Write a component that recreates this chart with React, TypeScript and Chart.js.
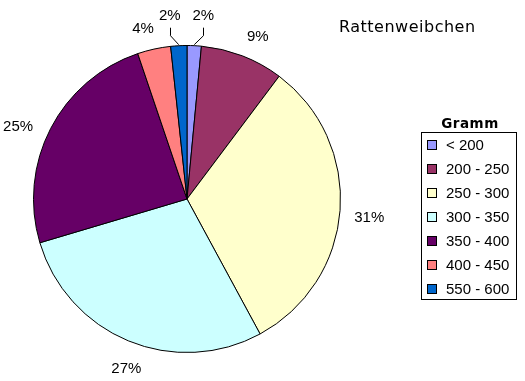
import { useEffect, useRef } from "react";
import { Chart, registerables } from "chart.js";

Chart.register(...registerables);

const categories = ["< 200", "200 - 250", "250 - 300", "300 - 350", "350 - 400", "400 - 450", "550 - 600"];
const shares = [1.5, 8.75, 31.85, 28.3, 24.4, 3.5, 1.7];
const percentValues = [2, 9, 31, 27, 25, 4, 2];
const colors = ["#9999FF", "#993366", "#FFFFCC", "#CCFFFF", "#660066", "#FF8080", "#0066CC"];
const chartTitle = "Rattenweibchen";
const legendTitle = "Gramm";

const labelPlugin = {
  id: "pctLabels",
  afterDatasetsDraw(chart: any) {
    const ctx = chart.ctx as CanvasRenderingContext2D;
    const meta = chart.getDatasetMeta(0);
    const pTotal = percentValues.reduce((a, b) => a + b, 0);
    let cum = 0;
    ctx.save();
    ctx.font = "15px 'Liberation Sans', Arial, sans-serif";
    ctx.fillStyle = "#000";
    ctx.strokeStyle = "#000";
    ctx.lineWidth = 1;
    meta.data.forEach((el: any, i: number) => {
      const { x, y, startAngle, endAngle, outerRadius } = el.getProps(
        ["x", "y", "startAngle", "endAngle", "outerRadius"],
        true
      );
      const pv = percentValues[i];
      const labelMid = -Math.PI / 2 + ((cum + pv / 2) / pTotal) * Math.PI * 2;
      cum += pv;
      const text = pv + "%";
      const w = ctx.measureText(text).width;
      const h = 14;
      let cx: number;
      let cy: number;
      if (pv <= 2) {
        const mid = (startAngle + endAngle) / 2;
        const c = Math.cos(mid);
        const s = Math.sin(mid);
        const ex = x + c * (outerRadius + 1);
        const ey = y + s * (outerRadius + 1);
        const sgn = c >= 0 ? 1 : -1;
        cx = ex + sgn * 9;
        cy = ey - 30;
        const lx = Math.round(cx) + 0.5;
        ctx.beginPath();
        ctx.moveTo(lx, cy + 13);
        ctx.lineTo(lx, cy + 21);
        ctx.lineTo(ex, ey);
        ctx.stroke();
      } else {
        const c = Math.cos(labelMid);
        const s = Math.sin(labelMid);
        const d = outerRadius + 14 + (Math.abs(c) * w) / 2 + (Math.abs(s) * h) / 2;
        cx = x + c * d;
        cy = y + s * d;
      }
      ctx.textAlign = "center";
      ctx.textBaseline = "alphabetic";
      ctx.fillText(text, cx, cy + 5.4);
    });
    ctx.restore();
  },
};

const legendPlugin = {
  id: "boxLegend",
  afterDraw(chart: any) {
    const ctx = chart.ctx as CanvasRenderingContext2D;
    const labels = chart.data.labels as string[];
    const bg = chart.data.datasets[0].backgroundColor as string[];
    ctx.save();
    // chart title
    ctx.fillStyle = "#000";
    ctx.font = "16px 'DejaVu Sans', Verdana, sans-serif";
    (ctx as any).letterSpacing = "0.5px";
    ctx.textAlign = "left";
    ctx.textBaseline = "alphabetic";
    ctx.fillText(chartTitle, 339, 32);
    // legend title
    ctx.font = "bold 13.5px 'DejaVu Sans', Verdana, sans-serif";
    ctx.textAlign = "center";
    ctx.fillText(legendTitle, 470, 128);
    (ctx as any).letterSpacing = "0px";
    // legend box
    ctx.strokeStyle = "#000";
    ctx.lineWidth = 1;
    ctx.strokeRect(421.5, 132.5, 95, 167);
    ctx.font = "15px 'Liberation Sans', Arial, sans-serif";
    ctx.textAlign = "left";
    labels.forEach((lab, i) => {
      const yc = 145 + i * 24;
      ctx.fillStyle = bg[i];
      ctx.fillRect(428, yc - 4, 8, 8);
      ctx.strokeRect(427.5, yc - 4.5, 9, 9);
      ctx.fillStyle = "#000";
      ctx.fillText(lab, 446, yc + 5.4);
    });
    ctx.restore();
  },
};

export default function App() {
  const ref = useRef<HTMLCanvasElement>(null);
  useEffect(() => {
    if (!ref.current) return;
    const chart = new Chart(ref.current, {
      type: "pie",
      data: {
        labels: categories,
        datasets: [
          {
            data: shares,
            backgroundColor: colors,
            borderColor: "#000",
            borderWidth: 1,
            hoverOffset: 0,
            offset: 0,
          },
        ],
      },
      options: {
        animation: false,
        responsive: false,
        devicePixelRatio: 1,
        layout: { padding: { left: 33, right: 184, top: 45, bottom: 28 } },
        plugins: {
          legend: { display: false },
          title: { display: false },
          tooltip: { enabled: false },
        },
      },
      plugins: [labelPlugin, legendPlugin],
    });
    return () => chart.destroy();
  }, []);
  return (
    <canvas
      ref={ref}
      width={525}
      height={381}
      style={{ position: "fixed", left: 0, top: 0, width: 525, height: 381, background: "#fff" }}
    />
  );
}
